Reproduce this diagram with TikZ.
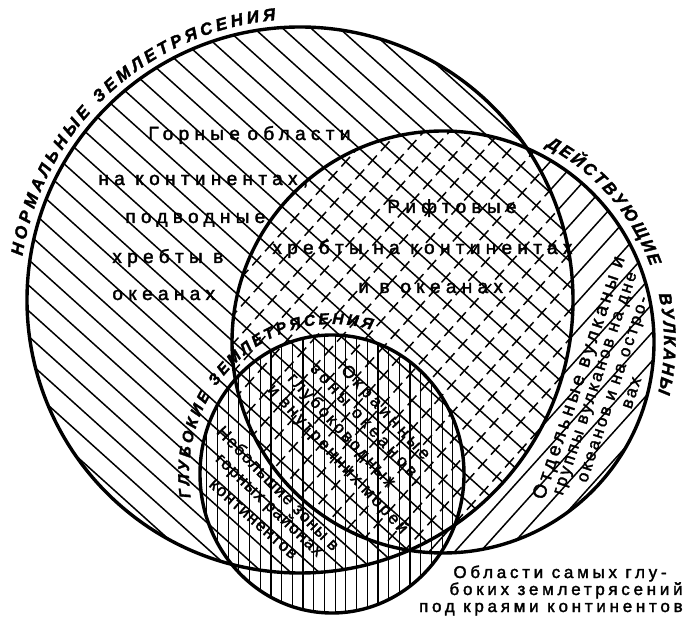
\documentclass[tikz,border=0pt]{standalone}
\usepackage{fontspec}
\setmainfont{Liberation Sans}
\usepackage{tikz}
\usetikzlibrary{calc,decorations.text}
\newfontfamily\wideface[LetterSpace=28, FakeBold=2]{Liberation Sans}
\newfontfamily\volcface[LetterSpace=20, FakeBold=2]{Liberation Sans}
\newfontfamily\edgeface[LetterSpace=24, FakeBold=2]{Liberation Sans}
\newfontfamily\midface[LetterSpace=15, FakeBold=2]{Liberation Sans}
\newfontfamily\tightface[LetterSpace=8, FakeBold=2]{Liberation Sans}
\newfontfamily\noteface[LetterSpace=22, FakeBold=2]{Liberation Sans}
\newfontfamily\headface[BoldItalicFeatures={FakeBold=2}]{Liberation Sans}
\newcommand{\headfont}{\headface\bfseries\itshape\fontsize{8.5}{10}\selectfont}
\newcommand{\headfontsm}{\headface\bfseries\itshape\fontsize{7.8}{9}\selectfont}
\newcommand{\normzone}{(nrm) circle [radius=273]}
\newcommand{\volczone}{(volc) circle [radius=211]}
\newcommand{\deepzone}{(deep) ellipse [x radius=132, y radius=139]}
\tikzset{
    outline/.style={line width=1.7pt, black},
    hatch/.style={line width=0.75pt, black},
    vhatch/.style={line width=0.6pt, black},
    tick/.style={line width=0.75pt, black, dash pattern=on 6.5pt off 3pt},
    lbl/.style={inner sep=0pt, anchor=base west, font=\wideface\fontsize{9.5}{11}\selectfont},
    note/.style={inner sep=0pt, anchor=base east, font=\noteface\fontsize{8.5}{10}\selectfont},
    vlbl/.style={inner sep=0pt, font=\volcface\fontsize{9.5}{11}\selectfont},
    elbl/.style={inner sep=0pt, anchor=west, font=\edgeface\fontsize{8.5}{10}\selectfont},
    mlbl/.style={inner sep=0pt, font=\midface\fontsize{8.5}{10}\selectfont},
    slbl/.style={inner sep=0pt, font=\tightface\fontsize{8.5}{10}\selectfont},
    arctitle/.style={decorate, decoration={text along path, text align=fit to path, text={#1}}},
}

\begin{document}
\begin{tikzpicture}[x=0.5pt, y=-0.5pt]
    \useasboundingbox (0,0) rectangle (685,619);
    \fill[white] (0,0) rectangle (685,619);

    \coordinate (nrm) at (300,300);
    \coordinate (volc) at (443,342);
    \coordinate (deep) at (332,474);

    % volcanoes: /// outside the normal zone, short ticks inside it
    \begin{scope}
        \clip \volczone;
        \begin{scope}[shift={(340,310)}, rotate=-42]
            \foreach \k in {-26,...,26}
                \draw[hatch] (\k*19,-520) -- (\k*19,520);
        \end{scope}
        \fill[white] \normzone;
        \clip \normzone;
        \begin{scope}[shift={(340,310)}, rotate=-42]
            \foreach \k in {-26,...,26}
                \draw[tick] (\k*19,-500.5) -- (\k*19,520);
        \end{scope}
    \end{scope}

    % normal earthquakes
    \begin{scope}
        \clip \normzone;
        \begin{scope}[shift={(340,310)}, rotate=-42]
            \foreach \k in {-26,...,26}
                \draw[hatch] (-520,\k*19) -- (520,\k*19);
        \end{scope}
    \end{scope}

    % deep earthquakes
    \begin{scope}
        \clip \deepzone;
        \foreach \i in {0,...,26}
            \draw[vhatch] ({196+\i*10.7},330) -- ++(0,290);
    \end{scope}

    \draw[outline] \normzone;
    \draw[outline] \volczone;
    \draw[outline] \deepzone;

    \path[arctitle={|\headfont|НОРМАЛЬНЫЕ ЗЕМЛЕТРЯСЕНИЯ}]
        ($(nrm)+(189:281)$) arc[start angle=189, end angle=265, radius=281];
    \path[arctitle={|\headfont|ДЕЙСТВУЮЩИЕ}]
        ($(volc)+(297.7:221)$) arc[start angle=297.7, end angle=340, radius=221];
    \path[arctitle={|\headfont|ВУЛКАНЫ}]
        ($(volc)+(347.5:221)$) arc[start angle=347.5, end angle=373.4, radius=221];
    \path[arctitle={|\headfontsm|ГЛУБОКИЕ ЗЕМЛЕТРЯСЕНИЯ}]
        ($(deep)+(171:143 and 150)$) arc[start angle=171, end angle=286, x radius=143, y radius=150];

    \node[lbl] (mnt1) at (148,140) {Горные\hspace{0.4em}области};
    \node[lbl] (mnt2) at (98,185) {на континентах,};
    \node[lbl] (mnt3) at (125,223) {подводные};
    \node[lbl] (mnt4) at (112,263) {хребты в};
    \node[lbl] (mnt5) at (112,300) {океанах};

    \node[lbl] (rift1) at (387,213) {Рифтовые};
    \node[lbl] (rift2) at (272,254) {хребты на континентах};
    \node[lbl] (rift3) at (358,293) {и в океанах};

    \node[vlbl, rotate=71.5] (volc1) at (580,378) {Отдельные вулканы и};
    \node[mlbl, rotate=71.5] (volc2) at (597,384) {группы вулканов на дне};
    \node[mlbl, rotate=71.5] (volc3) at (615,390) {океанов и на остро-};
    \node[mlbl, rotate=71.5] (volc4) at (632,393) {вах};

    \node[elbl, rotate=-47] (edge1) at (343,368) {Окраинные};
    \node[elbl, rotate=-47] (edge2) at (312,367) {зоны океанов,};
    \node[mlbl, rotate=-47, anchor=west] (edge3) at (290,376) {глубоководных};
    \node[mlbl, rotate=-47, anchor=west] (edge4) at (270,387) {и внутренних морей};

    \node[slbl, rotate=-45.5] (small1) at (278.5,488) {Небольшие зоны в};
    \node[slbl, rotate=-43.5] (small2) at (269,505.5) {горных районах};
    \node[slbl, rotate=-41.5] (small3) at (253,519.5) {континентов};

    \node[note] (deep1) at (667,578) {Области самых глу-};
    \node[note] (deep2) at (683,595) {боких землетрясений};
    \node[note] (deep3) at (683,612) {под краями континентов};
\end{tikzpicture}
\end{document}
